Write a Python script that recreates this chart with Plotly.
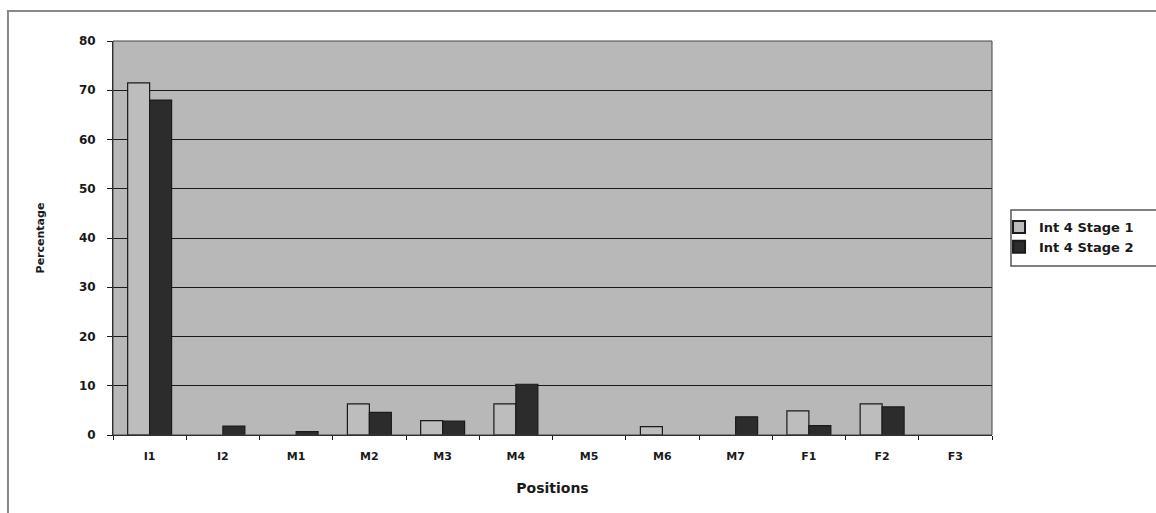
import plotly.graph_objects as go

# Share of players by position, two stages of the Int 4 programme
positions = ["I1", "I2", "M1", "M2", "M3", "M4", "M5", "M6", "M7", "F1", "F2", "F3"]
stage1 = [71.5, 0, 0, 6.3, 2.9, 6.3, 0, 1.7, 0, 4.9, 6.3, 0]
stage2 = [68.0, 1.8, 0.7, 4.6, 2.8, 10.3, 0, 0, 3.7, 1.9, 5.7, 0]
y_ticks = [0, 10, 20, 30, 40, 50, 60, 70, 80]

FONT = "DejaVu Sans, Verdana, sans-serif"
INK = "#1a1a1a"


def outline_widths(values):
    # empty categories get no outline at all
    return [0 if v == 0 else 1.2 for v in values]


fig = go.Figure()
fig.add_trace(go.Bar(
    x=positions, y=stage1, name="<b>Int 4 Stage 1</b>",
    marker=dict(color="#bdbdbd", line=dict(color=INK, width=outline_widths(stage1))),
))
fig.add_trace(go.Bar(
    x=positions, y=stage2, name="<b>Int 4 Stage 2</b>",
    marker=dict(color="#2c2c2c", line=dict(color=INK, width=outline_widths(stage2))),
))

fig.update_layout(
    width=1156, height=513,
    margin=dict(l=113, r=164, t=41, b=78),
    paper_bgcolor="white",
    plot_bgcolor="#b8b8b8",
    barmode="group",
    bargap=0.40,
    bargroupgap=0,
    font=dict(family=FONT, size=12, color=INK),
    showlegend=True,
    legend=dict(
        x=1.008, y=0.566, xanchor="left", yanchor="top",
        bgcolor="rgba(0,0,0,0)", borderwidth=0,
        font=dict(family=FONT, size=13, color=INK),
        itemsizing="constant", tracegroupgap=0, itemwidth=30,
    ),
    xaxis=dict(
        type="category",
        showgrid=False,
        showline=True, linecolor=INK, linewidth=1,
        ticks="outside", tickson="boundaries", ticklen=4, tickcolor=INK,
        ticklabelstandoff=11,
        tickfont=dict(family=FONT, size=11, color=INK, weight="bold"),
        title=dict(text="<b>Positions</b>", font=dict(family=FONT, size=14, color=INK), standoff=20),
    ),
    yaxis=dict(
        range=[0, 80],
        tickvals=y_ticks,
        showgrid=True, gridcolor=INK, gridwidth=1,
        showline=True, linecolor=INK, linewidth=1,
        ticks="outside", ticklen=5, tickcolor=INK,
        ticklabelstandoff=9,
        tickfont=dict(family=FONT, size=12, color=INK, weight="bold"),
        title=dict(text="<b>Percentage</b>", font=dict(family=FONT, size=11, color=INK), standoff=32),
        zeroline=False,
    ),
    shapes=[
        # plot-area frame
        dict(type="rect", xref="paper", yref="paper", x0=0, y0=0, x1=1, y1=1,
             line=dict(color="#444444", width=1), fillcolor="rgba(0,0,0,0)", layer="above"),
        # legend box
        dict(type="rect", xref="paper", yref="paper", x0=1.0216, y0=0.429, x1=1.25, y1=0.571,
             line=dict(color="#555555", width=1.5), fillcolor="white", layer="below"),
        # outer frame around the whole figure
        dict(type="rect", xref="paper", yref="paper", x0=-0.1195, y0=-0.25, x1=1.25, y1=1.0761,
             line=dict(color="#888888", width=2), fillcolor="rgba(0,0,0,0)", layer="below"),
    ],
)

fig.write_html("out.html")
